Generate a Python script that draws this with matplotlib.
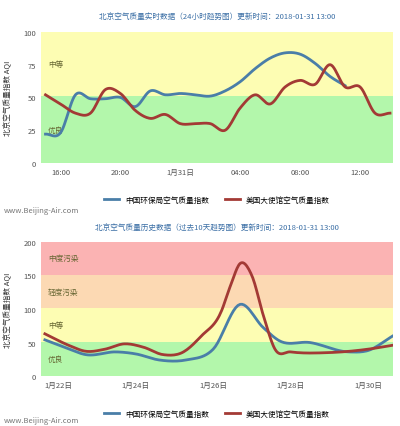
import numpy as np
import matplotlib
matplotlib.use("Agg")
import matplotlib.pyplot as plt

plt.rcParams['font.family'] = ['Noto Sans CJK SC', 'DejaVu Sans']

# top chart (hours relative to 2018-01-31 00:00)
t_hours_blue = [-9,-8,-7,-6,-5,-4,-3,-2,-1,0,1,2,3,4,5,6,7,8,9,10,11]
t_blue = [22,23,52,49,49,50,49,43,55,52,53,52,51,55,62,72,80,84,83,76,66,59][:21]
t_blue = [22,23,52,49,49,50,43,55,52,53,52,51,55,62,72,80,84,83,76,66,59]
t_hours_red = list(range(-9,15))
t_red = [52,45,38,38,56,53,40,34,37,30,30,30,25,42,52,45,58,63,60,75,58,58,38,38]
top_ticks = [-8,-4,0,4,8,12]
top_ticklabels = ['16:00','20:00','1月31日','04:00','08:00','12:00']

# bottom chart (day of January)
b_days_blue = [21.65,22.2,22.7,23.5,24.0,24.6,25.3,26.0,26.7,27.3,27.7,28.5,29.5,30.0,30.65]
b_blue = [54,42,32,36,33,24,24,40,107,72,53,50,36,38,60]
b_days_red = [21.65,22.3,22.7,23.2,23.7,24.2,24.7,25.2,25.7,26.2,26.45,26.7,27.0,27.3,27.6,28.0,29.0,30.0,30.65]
b_red = [63,45,37,40,48,43,32,35,60,95,135,168,150,90,40,36,35,40,46]
bot_ticks = [22,24,26,28,30]
bot_ticklabels = ['1月22日','1月24日','1月26日','1月28日','1月30日']

BLUE = '#4a7ea8'; RED = '#a33a35'

def smooth(x, y, n=12):
    x = np.asarray(x, float); y = np.asarray(y, float)
    xs, ys = [], []
    m = np.gradient(y, x)
    for i in range(len(x)-1):
        h = x[i+1]-x[i]
        s = np.linspace(0, 1, n, endpoint=False)
        h00 = 2*s**3-3*s**2+1; h10 = s**3-2*s**2+s; h01 = -2*s**3+3*s**2; h11 = s**3-s**2
        xs.extend(x[i]+s*h); ys.extend(h00*y[i]+h10*h*m[i]+h01*y[i+1]+h11*h*m[i+1])
    xs.append(x[-1]); ys.append(y[-1])
    return xs, ys

fig = plt.figure(figsize=(4, 4.27), dpi=100)

def style(ax, bands, ylim, yticks):
    for lo, hi, c, lab in bands:
        ax.axhspan(lo, hi, color=c, lw=0, zorder=0)
        ax.text(0.02, (lo+hi)/2, lab, transform=ax.get_yaxis_transform(), fontsize=5.5,
                color='#666633', va='center', zorder=1)
    ax.set_ylim(*ylim); ax.set_yticks(yticks)
    for s in ax.spines.values(): s.set_visible(False)
    ax.tick_params(length=0, labelsize=5.5, colors='#555555')
    ax.set_ylabel('北京空气质量指数 AQI', fontsize=5.5, color='#333333', labelpad=8)

ax1 = fig.add_axes([0.1025, 0.616, 0.88, 0.307])
style(ax1, [(0,51,'#b3f7ab','优良'),(51,100,'#fdfdb3','中等')], (0,100), [0,25,50,75,100])
ax1.plot(*smooth(t_hours_blue, t_blue), color=BLUE, lw=2, label='中国环保局空气质量指数')
ax1.plot(*smooth(t_hours_red, t_red), color=RED, lw=2, label='美国大使馆空气质量指数')
ax1.set_xlim(-9.3, 14.2)
ax1.set_xticks(top_ticks); ax1.set_xticklabels(top_ticklabels)
ax1.set_title('北京空气质量实时数据（24小时趋势图）更新时间：2018-01-31 13:00', fontsize=5.5, color='#3a6ea5', pad=9)
ax1.legend(loc='upper center', bbox_to_anchor=(0.5, -0.2), ncol=2, frameon=False, fontsize=5.5, handlelength=2)

ax2 = fig.add_axes([0.1025, 0.117, 0.88, 0.314])
style(ax2, [(0,51,'#b3f7ab','优良'),(51,101,'#fdfdb3','中等'),(101,151,'#fcd9b3','轻度污染'),(151,200,'#fbb3b3','中度污染')], (0,200), [0,50,100,150,200])
ax2.plot(*smooth(b_days_blue, b_blue), color=BLUE, lw=2, label='中国环保局空气质量指数')
ax2.plot(*smooth(b_days_red, b_red), color=RED, lw=2, label='美国大使馆空气质量指数')
ax2.set_xlim(21.55, 30.65)
ax2.set_xticks(bot_ticks); ax2.set_xticklabels(bot_ticklabels)
ax2.set_title('北京空气质量历史数据（过去10天趋势图）更新时间：2018-01-31 13:00', fontsize=5.5, color='#3a6ea5', pad=9)
ax2.legend(loc='upper center', bbox_to_anchor=(0.5, -0.2), ncol=2, frameon=False, fontsize=5.5, handlelength=2)

fig.text(0.01, 1-211/427, 'www.Beijing-Air.com', fontsize=5.5, color='#777777', va='center')
fig.text(0.01, 1-421/427, 'www.Beijing-Air.com', fontsize=5.5, color='#777777', va='center')

fig.savefig('out.png', dpi=100)
